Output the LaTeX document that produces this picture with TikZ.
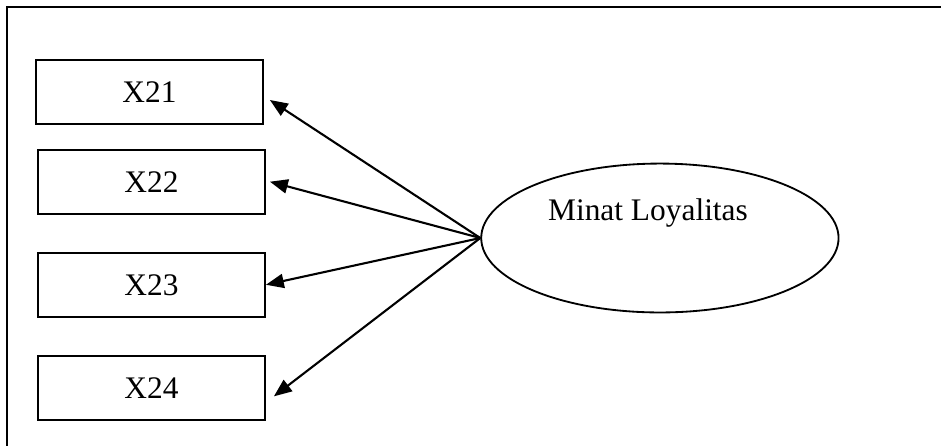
\documentclass[tikz,border=0pt]{standalone}
\usepackage{fontspec}
\setmainfont{Liberation Serif}
\usetikzlibrary{arrows.meta,shapes,positioning}

\begin{document}
\begin{tikzpicture}[
		indikator/.style = {draw, rectangle, line width=0.7pt, minimum width=3.05cm, minimum height=0.86cm, inner sep=0pt},
		laten/.style     = {draw, ellipse, line width=0.7pt, minimum width=4.8cm, minimum height=2cm, inner sep=0pt},
		font=\fontsize{12}{14}\selectfont,
		>={Triangle[length=2.4mm,width=1.9mm]}]

		\useasboundingbox (0,0) rectangle (12.64,5.99);

		% outer frame, only the left and top sides fall inside the page
		\draw[line width=0.8pt] (0.094,0) |- (12.64,5.896);

		% the indicators, stacked on the left
		\node[indikator] (x21) at (2.008,4.754) {X21};
		\node[indikator, below=0.32cm of x21, xshift=0.027cm] (x22) {X22};
		\node[indikator, below=0.5cm of x22] (x23) {X23};
		\node[indikator, below=0.5cm of x23] (x24) {X24};

		% the latent variable
		\node[laten, label={[xshift=-0.16cm, yshift=0.336cm]center:Minat Loyalitas}] (loyal) at (8.864,2.793) {};

		% arrows from the latent variable to every indicator
		\foreach \i/\dx/\dy in {21/0.08/-0.107, 22/0.054/0, 23/0/0, 24/0.107/-0.114}
		\draw[->, line width=0.8pt] (loyal.west) -- ([xshift=\dx cm, yshift=\dy cm]x\i.east);

	\end{tikzpicture}
\end{document}
